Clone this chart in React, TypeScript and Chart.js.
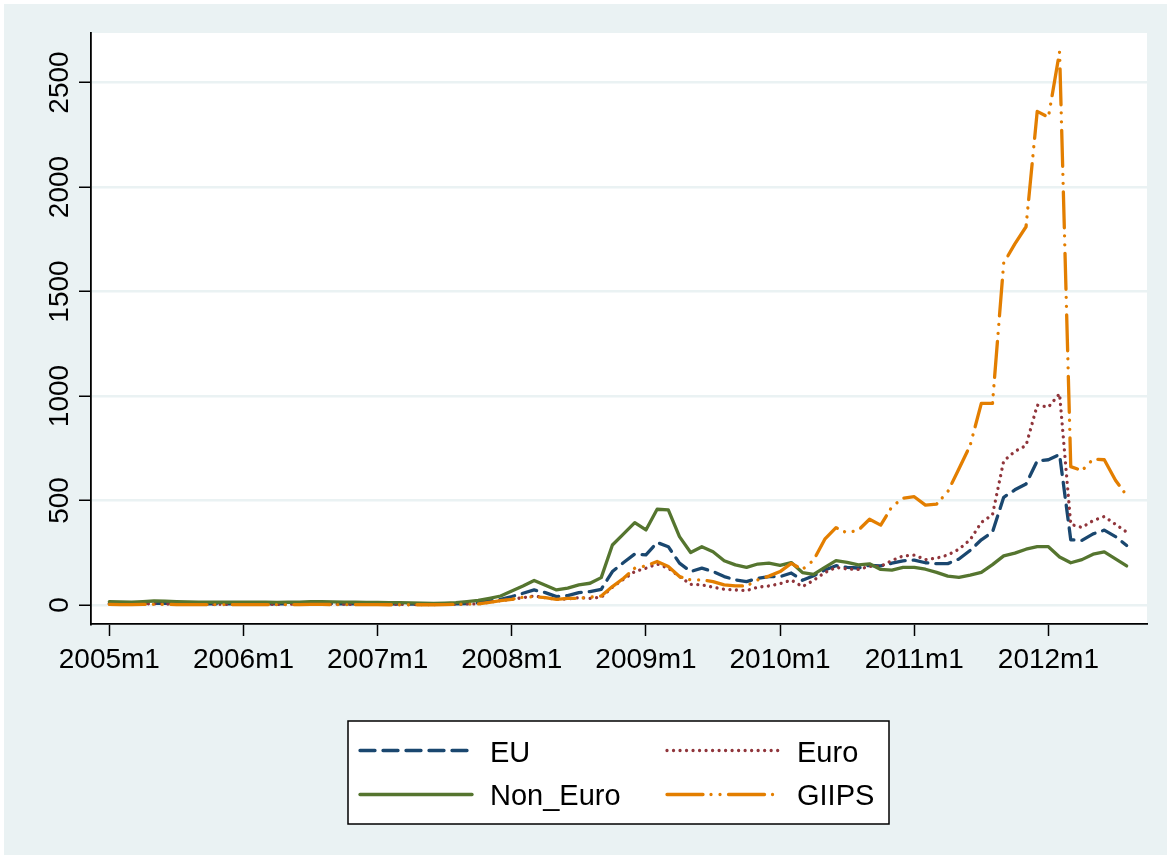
import React, { useEffect, useRef } from "react";
import { Chart, registerables } from "chart.js";

Chart.register(...registerables);

// Monthly series, index 0 = 2005m1 ... index 91 = 2012m8
const euValues = [
  8, 7, 6, 7, 8, 8, 7, 6, 6, 5, 5, 5,
  5, 5, 5, 5, 6, 6, 7, 7, 6, 6, 5, 5,
  5, 5, 4, 4, 4, 4, 5, 6, 7, 11, 19, 27,
  40, 56, 72, 59, 40, 45, 59, 64, 75, 160, 203, 244,
  240, 299, 279, 200, 160, 176, 160, 136, 120, 112, 128, 136,
  136, 153, 118, 140, 167, 188, 180, 177, 190, 187, 200, 211,
  215, 202, 198, 198, 220, 261, 312, 349, 515, 551, 579, 689,
  695, 720, 312, 309, 340, 358, 327, 285,
];
const euroValues = [
  5, 4, 4, 5, 6, 5, 4, 4, 3, 3, 3, 3,
  3, 3, 3, 3, 4, 4, 5, 5, 4, 4, 3, 3,
  3, 3, 3, 2, 2, 2, 3, 4, 5, 5, 13, 21,
  27, 35, 43, 35, 27, 29, 35, 32, 37, 85, 123, 160,
  176, 196, 176, 136, 99, 96, 85, 75, 72, 69, 85, 91,
  102, 119, 88, 118, 155, 180, 172, 170, 185, 185, 213, 235,
  239, 217, 224, 239, 267, 312, 395, 432, 689, 735, 763, 956,
  947, 1011, 386, 371, 404, 423, 386, 349,
];
const nonEuroValues = [
  16, 15, 14, 16, 19, 18, 16, 15, 14, 13, 13, 13,
  13, 13, 13, 12, 13, 14, 16, 16, 15, 14, 13, 12,
  12, 11, 11, 10, 9, 8, 9, 11, 16, 22, 32, 43,
  67, 91, 117, 94, 72, 81, 96, 104, 131, 287, 340, 394,
  359, 458, 455, 327, 251, 279, 255, 212, 192, 180, 196, 200,
  190, 203, 155, 146, 180, 212, 204, 192, 197, 170, 167, 180,
  180, 171, 156, 138, 132, 143, 156, 193, 235, 248, 267, 279,
  279, 230, 202, 217, 243, 254, 221, 187,
];
const giipsValues = [
  3, 2, 2, 3, 3, 3, 2, 2, 2, 2, 2, 2,
  2, 2, 2, 2, 2, 2, 3, 3, 2, 2, 2, 2,
  2, 1, 1, 1, 1, 1, 2, 3, 4, 5, 13, 21,
  27, 37, 40, 35, 27, 32, 32, 37, 43, 88, 128, 176,
  187, 208, 184, 136, 120, 120, 112, 96, 91, 91, 120, 138,
  160, 199, 170, 215, 315, 370, 345, 358, 410, 382, 470, 511,
  518, 478, 483, 542, 652, 763, 965, 965, 1636, 1728, 1810, 2362,
  2334, 2647, 662, 643, 698, 695, 597, 524,
];

const xTickMonths = [0, 12, 24, 36, 48, 60, 72, 84];
const xTickLabels = ["2005m1", "2006m1", "2007m1", "2008m1", "2009m1", "2010m1", "2011m1", "2012m1"];
const yTickValues = [0, 500, 1000, 1500, 2000, 2500];
const yTickLabels = ["0", "500", "1000", "1500", "2000", "2500"];

const seriesNames = ["EU", "Euro", "Non_Euro", "GIIPS"];
const seriesColors = ["#1a476f", "#90353b", "#55752f", "#e37e00"];
const seriesDashes = [
  [15, 8],
  [0.01, 6.5],
  [],
  [36, 8, 0.01, 9, 0.01, 8.5],
];
const seriesValues = [euValues, euroValues, nonEuroValues, giipsValues];

const BG = "#EAF2F3";
const FONT = "Liberation Sans, Arial, sans-serif";
const LINE_W = 3.3;

const decorPlugin = {
  id: "decor",
  beforeDraw(chart: any) {
    const { ctx, chartArea, width, height } = chart;
    ctx.save();
    ctx.fillStyle = "#ffffff";
    ctx.fillRect(0, 0, width, height);
    ctx.fillStyle = BG;
    ctx.fillRect(4, 4, width - 4, height - 4);
    ctx.fillStyle = "#ffffff";
    ctx.fillRect(chartArea.left, chartArea.top, chartArea.right - chartArea.left, chartArea.bottom - chartArea.top);
    ctx.restore();
  },
  afterDraw(chart: any) {
    const { ctx } = chart;
    const xs = chart.scales.x;
    const ys = chart.scales.y;
    ctx.save();
    ctx.fillStyle = "#000";
    ctx.font = `28px ${FONT}`;
    ctx.textAlign = "center";
    ctx.textBaseline = "alphabetic";
    xTickMonths.forEach((m, i) => {
      ctx.fillText(xTickLabels[i], xs.getPixelForValue(m), 668);
    });
    yTickValues.forEach((v, i) => {
      const y = ys.getPixelForValue(v);
      ctx.save();
      ctx.translate(68, y);
      ctx.rotate(-Math.PI / 2);
      ctx.textAlign = "center";
      ctx.textBaseline = "alphabetic";
      ctx.fillText(yTickLabels[i], 0, 0);
      ctx.restore();
    });
    const bx = 348, by = 721, bw = 541, bh = 103;
    ctx.fillStyle = "#ffffff";
    ctx.fillRect(bx, by, bw, bh);
    ctx.strokeStyle = "#000";
    ctx.lineWidth = 1.5;
    ctx.strokeRect(bx, by, bw, bh);
    const cols = [
      { x1: 360, x2: 472, tx: 490 },
      { x1: 667, x2: 779, tx: 797 },
    ];
    const rows = [{ ly: 750.5, ty: 762 }, { ly: 794.5, ty: 805 }];
    [0, 1, 2, 3].forEach((si, k) => {
      const c = cols[k % 2];
      const r = rows[Math.floor(k / 2)];
      ctx.save();
      ctx.strokeStyle = seriesColors[si];
      ctx.lineWidth = LINE_W;
      ctx.lineCap = "round";
      ctx.setLineDash(seriesDashes[si]);
      ctx.beginPath();
      ctx.moveTo(c.x1, r.ly);
      ctx.lineTo(c.x2, r.ly);
      ctx.stroke();
      ctx.restore();
      ctx.fillStyle = "#000";
      ctx.font = `29px ${FONT}`;
      ctx.textAlign = "left";
      ctx.textBaseline = "alphabetic";
      ctx.fillText(seriesNames[si], c.tx, r.ty);
    });
    ctx.restore();
  },
};

export default function App() {
  const canvasRef = useRef<HTMLCanvasElement | null>(null);

  useEffect(() => {
    const canvas = canvasRef.current;
    if (!canvas) return;
    const drawOrder = [3, 2, 1, 0];
    const datasets = seriesValues.map((vals, si) => ({
      label: seriesNames[si],
      data: vals.map((v, i) => ({ x: i, y: v })),
      borderColor: seriesColors[si],
      backgroundColor: seriesColors[si],
      borderWidth: LINE_W,
      borderDash: seriesDashes[si],
      borderCapStyle: "round" as const,
      borderJoinStyle: "round" as const,
      pointRadius: 0,
      tension: 0,
      fill: false,
      order: drawOrder[si],
    }));

    const chart = new Chart(canvas, {
      type: "line",
      data: { datasets },
      plugins: [decorPlugin],
      options: {
        animation: false,
        responsive: false,
        devicePixelRatio: 1,
        layout: { padding: { left: 0, top: 33, right: 20, bottom: 171 } },
        plugins: {
          legend: { display: false },
          tooltip: { enabled: false },
          title: { display: false },
        },
        scales: {
          x: {
            type: "linear",
            min: -1.64,
            max: 92.82,
            afterBuildTicks: (scale: any) => {
              scale.ticks = xTickMonths.map((v) => ({ value: v }));
            },
            afterFit: (scale: any) => {
              scale.height = 60;
            },
            ticks: { display: false },
            grid: {
              drawOnChartArea: false,
              drawTicks: true,
              tickLength: 12,
              tickColor: "#000",
              tickWidth: 1.5,
            },
            border: { display: true, color: "#000", width: 1.8 },
          },
          y: {
            type: "linear",
            min: -91,
            max: 2737,
            afterBuildTicks: (scale: any) => {
              scale.ticks = yTickValues.map((v) => ({ value: v }));
            },
            afterFit: (scale: any) => {
              scale.width = 91;
            },
            ticks: { display: false },
            grid: {
              color: BG,
              lineWidth: 2.5,
              drawOnChartArea: true,
              drawTicks: true,
              tickLength: 12,
              tickColor: "#000",
              tickWidth: 1.5,
            },
            border: { display: true, color: "#000", width: 1.8 },
          },
        },
      },
    });
    return () => chart.destroy();
  }, []);

  return (
    <div style={{ position: "absolute", left: 0, top: 0, width: 1167, height: 855 }}>
      <canvas ref={canvasRef} width={1167} height={855} style={{ display: "block", width: 1167, height: 855 }} />
    </div>
  );
}
